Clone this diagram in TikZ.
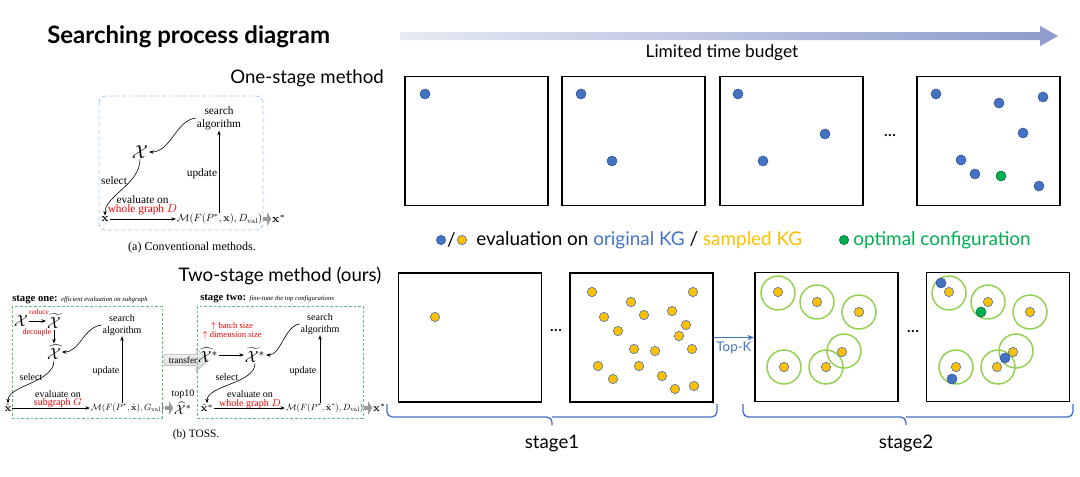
\RequirePackage{fix-cm}
\documentclass[tikz,border=0pt]{standalone}
\usepackage[no-math]{fontspec}
\setmainfont{Lato}
\newfontfamily\tms{Liberation Serif}
\usetikzlibrary{arrows.meta,shapes.arrows,positioning}
\definecolor{kgblue}{HTML}{4472C4}
\definecolor{kgblueD}{HTML}{2F528F}
\definecolor{kgorange}{HTML}{FFC000}
\definecolor{kggreen}{HTML}{00B050}
\definecolor{ringgreen}{HTML}{92D050}
\definecolor{tarrowL}{HTML}{E6EAF3}
\definecolor{tarrowR}{HTML}{8D9ACB}
\definecolor{frameblue}{HTML}{A8C6E6}
\definecolor{framegreen}{HTML}{5CBF7F}
\definecolor{redtxt}{HTML}{F00000}
\newcommand{\mexpr}[2]{\resizebox{#1}{!}{\fontsize{10}{12}\selectfont$#2$}}
\begin{document}
\begin{tikzpicture}[x=0.75pt,y=-0.75pt,
  box/.style={draw=black,line width=1.4pt,minimum width=107.25pt,minimum height=96.75pt,inner sep=0pt},
  bdot/.style={circle,fill=kgblue,draw=kgblueD,line width=0.4pt,minimum size=7.5pt,inner sep=0pt},
  odot/.style={circle,fill=kgorange,draw=kgblue!70!gray,line width=0.5pt,minimum size=7pt,inner sep=0pt},
  gdot/.style={circle,fill=kggreen,draw=kggreen!60!black,line width=0.4pt,minimum size=7.5pt,inner sep=0pt},
  ring/.style={circle,draw=ringgreen,line width=1.1pt,minimum size=25.5pt,inner sep=0pt},
  lblA/.style={font=\fontsize{14}{16}\selectfont,inner sep=0pt},
  lblB/.style={font=\fontsize{13}{15}\selectfont,inner sep=0pt},
  lblC/.style={font=\fontsize{14.2}{16}\selectfont,inner sep=0pt},
  pa/.style={font=\tms\fontsize{8.5}{9.8}\selectfont,inner sep=0.5pt,align=center},
  pb/.style={font=\tms\fontsize{7.5}{8.6}\selectfont,inner sep=0.5pt,align=center},
  redlab/.style={text=redtxt},
  arr/.style={-{Stealth[length=3.5pt,width=2.6pt]},line width=0.45pt},
  garr/.style={draw=gray!80,line width=3.5pt,-{Triangle[length=3pt,width=10pt]}},
  fgreen/.style={draw=framegreen,line width=0.6pt,dash pattern=on 2pt off 1.5pt},
  bracecol/.style={draw=kgblue,line width=1pt,rounded corners=4pt}
]
\useasboundingbox (0,0) rectangle (1080,476);

% ---------- header ----------
\node[font=\bfseries\fontsize{18}{20}\selectfont,anchor=west,inner sep=0pt] (title) at (47,37) {Searching process diagram};
\shade[left color=tarrowL,right color=tarrowR] (400,32) -- (1040,32) -- (1040,26) -- (1058,36) -- (1040,46) -- (1040,40) -- (400,40) -- cycle;
\node[lblB] (budget) at (722,53) {Limited time budget};
\node[lblA] (one) at (307,78) {One-stage method};
\node[lblA] (two) at (280,276) {Two-stage method (ours)};

% ---------- one-stage row ----------
\node[box] (B1) at (476.5,141) {};
\node[box] (B2) at (633.5,141) {};
\node[box] (B3) at (791.5,141) {};
\node[box] (B4) at (988.5,141) {};
\node[lblB] (dotsA) at (890,136) {...};
\node[bdot] (a1) at (425,94) {};
\node[bdot] (b1) at (581,94) {};
\node[bdot] (b2) at (612,161) {};
\node[bdot] (c1) at (738,94) {};
\node[bdot] (c2) at (825,134) {};
\node[bdot] (c3) at (763,161) {};
\node[bdot] (e1) at (936,94) {};
\node[bdot] (e2) at (999,103) {};
\node[bdot] (e3) at (1043,97) {};
\node[bdot] (e4) at (1023,133) {};
\node[bdot] (e5) at (961,160) {};
\node[bdot] (e6) at (975,174) {};
\node[gdot] (e7) at (1001,176) {};
\node[bdot] (e8) at (1039,186) {};

% ---------- legend ----------
\node[bdot,minimum size=7pt] (lgb) at (441,240) {};
\node[lblC] (lgs) at (451.5,240) {/};
\node[odot] (lgo) at (462,240) {};
\node[lblC,anchor=west] (lgt) at (476,240) {evaluation on \textcolor{kgblue}{original KG} / \textcolor{kgorange}{sampled KG}};
\node[gdot,minimum size=7pt] (lgg) at (844,240) {};
\node[lblC,anchor=west,text=kggreen] (lgopt) at (853,240) {optimal configuration};

% ---------- two-stage row ----------
\node[box] (B5) at (470,337.5) {};
\node[box] (B6) at (641.5,337.5) {};
\node[box] (B7) at (826.5,337) {};
\node[box] (B8) at (998,337) {};
\node[lblB] (dotsB) at (556,331) {...};
\node[lblB] (dotsC) at (913,332) {...};
\node[odot] (f1) at (435,317) {};
\foreach \px/\py [count=\i] in {592/292,693/292,631/302,604/317,644/315,672/311,686/325,618/331,679/336,634/349,655/351,692/349,598/366,639/366,662/376,613/379,675/389,694/386}
  \node[odot] (g\i) at (\px,\py) {};
\draw[kgblue,line width=1pt,-{Stealth[length=5pt,width=4pt]}] (B6.east) -- node[below=3pt,font=\fontsize{10}{12}\selectfont,text=kgblue,inner sep=0pt] (topk) {Top-K} (B6.east -| B7.west);
% stage 2 box 7
\foreach \px/\py [count=\i] in {778/293,817/302,859/312,844/351,784/367,826/367}
  \node[ring] (r\i) at (\px,\py) {};
\foreach \px/\py [count=\i] in {778/292,817/302,859/312,842/352,784/367,826/367}
  \node[odot] (h\i) at (\px,\py) {};
% stage 2 box 8
\foreach \px/\py [count=\i] in {949/293,988/302,1030/312,1016/351,956/367,998/367}
  \node[ring] (s\i) at (\px,\py) {};
\foreach \px/\py [count=\i] in {949/292,988/302,1030/312,1013/352,956/367,997/367}
  \node[odot] (k\i) at (\px,\py) {};
\node[bdot] (m1) at (941,283) {};
\node[bdot] (m2) at (1005,358) {};
\node[bdot] (m3) at (952,379) {};
\node[gdot] (m4) at (981,312) {};

% braces
\draw[bracecol] (387,404) |- (552,417) -- (552,425);
\draw[bracecol] (717,404) |- (552,417);
\draw[bracecol] (743,404) |- (906,417) -- (906,425);
\draw[bracecol] (1073,404) |- (906,417);
\node[lblA] (st1lab) at (552,443) {stage1};
\node[lblA] (st2lab) at (906,443) {stage2};

% ---------- panel (a) ----------
\draw[draw=frameblue,line width=0.7pt,dash pattern=on 3pt off 2pt,rounded corners=5pt] (99,96) rectangle (263,230);
\node[pa] (saA) at (219,118) {search\\algorithm};
\node[pa,font=\fontsize{14}{14}\selectfont] (XA) at (140,152) {$\mathcal{X}$};
\node[pa] (xA) at (105,219) {$\mathbf{x}$};
\node[pa,anchor=west] (MA) at (176,219) {\mexpr{64pt}{\mathcal{M}(F(P^*,\mathbf{x}),D_{\mathrm{val}})}};
\node[pa,right=6pt of MA] (xsA) {$\mathbf{x}^*$};
\draw[garr] (MA.east) -- (xsA.west);
\draw[arr] (xA.east) -- (MA.west);
\node[pa] (evA) at (142.5,199.5) {evaluate on};
\node[pa,redlab] (wgA) at (142.5,210) {whole graph $D$};
\node[pa] (selA) at (114,181) {select};
\node[pa] (updA) at (202,174) {update};
\draw[arr] (saA.west) .. controls +(-20,2) and +(22,0) .. (XA.east);
\draw[arr] (XA.south) .. controls +(0,25) and +(0,-20) .. (xA.north);
\draw[arr] (saA.south |- MA.north) -- (saA.south);
\node[pa,font=\tms\fontsize{9}{10}\selectfont] (capA) at (192,247.5) {(a) Conventional methods.};

% ---------- panel (b) stage one ----------
\node[anchor=west,inner sep=0pt,font=\tms\bfseries\fontsize{8}{9}\selectfont] (st1) at (12,300) {stage one: {\mdseries\itshape\fontsize{5}{6}\selectfont efficient evaluation on subgraph}};
\draw[fgreen] (12,306) rectangle (162,418);
\node[pb,font=\fontsize{12}{12}\selectfont] (X1) at (21,321) {$\mathcal{X}$};
\node[pb,font=\fontsize{12}{12}\selectfont] (Xt1) at (54,321) {$\widetilde{\mathcal{X}}$};
\draw[arr,line width=0.6pt] (X1) -- (Xt1);
\node[pb,redlab,font=\tms\fontsize{5.5}{6}\selectfont] (rd1) at (39,312) {reduce};
\node[pb,font=\fontsize{12}{12}\selectfont] (Xh1) at (54,352) {$\widehat{\mathcal{X}}$};
\draw[arr,line width=0.6pt] (Xt1) -- (Xh1);
\node[pb,redlab,font=\tms\fontsize{6}{7}\selectfont] (dc1) at (37,333) {decouple};
\node[pb] (sa1) at (122,325) {search\\algorithm};
\draw[arr] (sa1.west) .. controls +(-18,2) and +(18,0) .. (Xh1.east);
\node[pb,font=\fontsize{8}{9}\selectfont] (xh1) at (8,408) {$\hat{\mathbf{x}}$};
\draw[arr] (Xh1.south) .. controls +(0,22) and +(0,-18) .. (xh1.north);
\node[pb] (sel1) at (31,377) {select};
\node[pb] (upd1) at (106,371) {update};
\node[pb,anchor=west] (M1) at (90,408) {\mexpr{55pt}{\mathcal{M}(F(P^*,\hat{\mathbf{x}}),G_{\mathrm{val}})}};
\draw[arr] (xh1.east) -- (M1.west);
\draw[arr] (sa1.south |- M1.north) -- (sa1.south);
\node[pb] (ev1) at (58,394) {evaluate on};
\node[pb,redlab] (sg1) at (58,403) {subgraph $G$};
\node[pb,font=\fontsize{10}{10}\selectfont,right=6pt of M1] (Xs1) {$\widehat{\mathcal{X}}^*$};
\draw[garr] (M1.east) -- (Xs1.west);
\node[pb,above=0.5pt of Xs1] (top1) {top10};

% transfer
\node[single arrow,draw=gray!60,top color=gray!5,bottom color=gray!35,single arrow head extend=4.5pt,minimum height=33pt,inner sep=1.5pt,font=\tms\fontsize{7}{8}\selectfont] (tr) at (183,360) {transfer};

% ---------- panel (b) stage two ----------
\node[anchor=west,inner sep=0pt,font=\tms\bfseries\fontsize{8}{9}\selectfont] (st2) at (200,299) {stage two: {\mdseries\itshape\fontsize{5}{6}\selectfont fine-tune the top configurations}};
\draw[fgreen] (197,306) rectangle (363,418);
\node[pb,redlab,font=\tms\fontsize{6.5}{7}\selectfont] (bs2) at (232,326) {$\uparrow$ batch size};
\node[pb,redlab,font=\tms\fontsize{6.5}{7}\selectfont] (ds2) at (232,335) {$\uparrow$ dimension size};
\node[pb,font=\fontsize{12}{12}\selectfont] (Xh2) at (208,355) {$\widehat{\mathcal{X}}^*$};
\node[pb,font=\fontsize{12}{12}\selectfont] (Xt2) at (255,355) {$\widetilde{\mathcal{X}}^*$};
\draw[arr,line width=0.6pt] (Xh2) -- (Xt2);
\node[pb] (sa2) at (320,324) {search\\algorithm};
\draw[arr] (sa2.west) .. controls +(-15,2) and +(15,0) .. (Xt2.east);
\node[pb,font=\fontsize{8}{9}\selectfont] (xh2) at (207,408) {$\hat{\mathbf{x}}^*$};
\draw[arr] (Xt2.south) .. controls +(0,20) and +(0,-18) .. (xh2.north);
\node[pb] (sel2) at (227,377) {select};
\node[pb] (upd2) at (303,371) {update};
\node[pb,anchor=west] (M2) at (285,408) {\mexpr{58pt}{\mathcal{M}(F(P^*,\hat{\mathbf{x}}^*),D_{\mathrm{val}})}};
\draw[arr] (xh2.east) -- (M2.west);
\draw[arr] (sa2.south |- M2.north) -- (sa2.south);
\node[pb] (ev2) at (250,394) {evaluate on};
\node[pb,redlab] (wg2) at (250,404) {whole graph $D$};
\node[pb,font=\fontsize{8}{9}\selectfont,right=6pt of M2] (xs2) {$\mathbf{x}^*$};
\draw[garr] (M2.east) -- (xs2.west);
\node[pb,font=\tms\fontsize{8.5}{10}\selectfont] (capB) at (196,435) {(b) TOSS.};
\end{tikzpicture}
\end{document}
